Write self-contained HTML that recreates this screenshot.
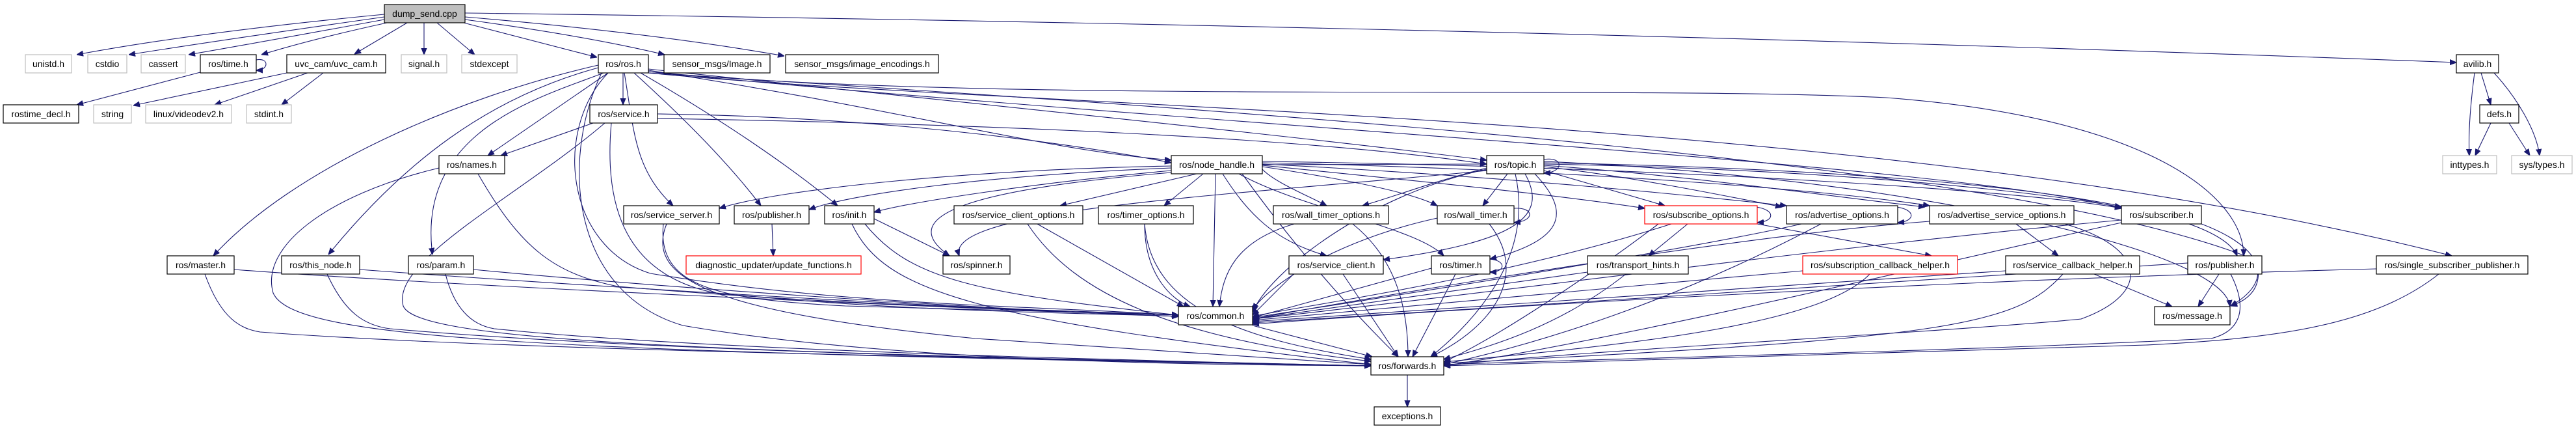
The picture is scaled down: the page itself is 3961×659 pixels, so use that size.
<!DOCTYPE html>
<html><head><meta charset="utf-8"><style>
html,body{margin:0;padding:0;background:#fff}
svg{display:block}
text{font-family:"Liberation Sans",sans-serif;font-size:14px;fill:#000;text-anchor:middle}
.n{fill:#fff;stroke:#000;stroke-width:1.2}
.g{fill:#fff;stroke:#bfbfbf;stroke-width:1.2}
.r{fill:#fff;stroke:#ff0000;stroke-width:1.2}
path{fill:none;stroke:#191970;stroke-width:1.1}
</style></head><body>
<svg width="3961" height="659" viewBox="0 0 3961 659" xmlns="http://www.w3.org/2000/svg">
<defs><marker id="a" viewBox="0 0 10 10" refX="10" refY="5" markerWidth="10" markerHeight="10" markerUnits="userSpaceOnUse" orient="auto"><path d="M0,1 L10,5 L0,9 Z" style="fill:#191970;stroke:#191970"/></marker></defs>
<g marker-end="url(#a)">
<path d="M591,22 Q300,50 118,84"/><path d="M591,26 Q350,60 198,84"/><path d="M591,30 Q400,65 290,84"/><path d="M595,35 Q480,60 402,84"/>
<path d="M626,35 L545,83"/><path d="M652,35 L652,84"/><path d="M672,35 L730,84"/><path d="M713,35 L918,88"/>
<path d="M715,30 Q900,55 1022,84"/><path d="M715,26 Q1000,50 1206,86"/><path d="M715,20 Q2300,40 3777,96"/>
<path d="M394,92 C414,88 414,108 394,108"/><path d="M308,111 L118,161"/>
<path d="M441,112 L205,162"/><path d="M473,112 L330,161"/><path d="M497,112 L433,161"/>
<path d="M958,112 L958,161"/><path d="M935,112 L750,239"/>
<path d="M920,100 C700,150 450,260 328,393"/><path d="M920,104 C750,150 620,250 505,391"/><path d="M928,112 C830,150 640,200 665,391"/>
<path d="M997,108 C1400,170 1600,230 1801,246"/><path d="M997,106 C1600,170 2000,210 2286,246"/>
<path d="M960,112 C975,200 975,260 1035,316"/><path d="M975,112 C1050,180 1120,250 1170,316"/><path d="M985,112 C1120,190 1220,260 1288,316"/>
<path d="M935,112 C850,200 870,380 1000,420 C1300,470 1600,470 1812,484"/>
<path d="M925,112 C860,250 880,450 1050,500 C1400,560 1900,560 2108,562"/>
<path d="M997,110 C1800,190 3000,250 3262,320"/>
<path d="M997,110 C1500,160 2500,130 2900,150 C3300,180 3450,300 3450,393"/>
<path d="M997,112 C1600,170 2900,170 3770,393"/>
<path d="M997,112 C2000,175 3100,250 3470,400 C3480,440 3460,460 3430,470"/>
<path d="M912,189 L770,239"/><path d="M1011,175 C1400,180 1700,230 1801,250"/><path d="M1011,182 C1500,190 2000,210 2286,252"/>
<path d="M940,189 C930,300 950,420 1100,450 C1400,480 1650,480 1812,486"/>
<path d="M930,189 C800,300 600,400 620,470 C640,520 1000,540 2108,562"/>
<path d="M735,267 C800,380 850,420 950,440 C1300,470 1600,475 1812,484"/>
<path d="M675,258 C500,300 400,380 420,450 C450,520 800,540 2108,562"/>
<path d="M360,414 C700,440 1400,470 1812,486"/><path d="M315,421 C340,490 370,505 400,510 C800,540 1600,550 2108,562"/>
<path d="M553,414 C900,440 1500,475 1812,486"/><path d="M503,421 C530,480 560,500 600,505 C1000,540 1700,555 2108,562"/>
<path d="M728,414 C1000,440 1500,475 1812,486"/><path d="M685,421 C700,480 730,500 760,505 C1100,540 1800,555 2108,562"/>
<path d="M1801,255 C1500,260 1200,290 1106,320"/><path d="M1801,258 C1500,270 1300,300 1244,322"/><path d="M1801,262 C1600,280 1400,310 1344,326"/>
<path d="M1840,267 L1630,316"/><path d="M1850,267 L1790,316"/>
<path d="M1941,260 C1960,280 2010,300 2040,316"/><path d="M1941,256 C2100,280 2180,300 2210,316"/>
<path d="M1941,254 C2200,280 2400,300 2529,320"/><path d="M1941,252 C2300,270 2600,300 2747,316"/>
<path d="M1941,250 C2400,260 2800,290 2967,316"/><path d="M1941,248 C2500,255 3100,290 3262,320"/>
<path d="M1801,265 C1500,290 1370,330 1460,393"/><path d="M1880,267 C1920,330 1960,370 2040,393"/>
<path d="M1905,267 C2000,320 2180,350 2220,393"/><path d="M1869,267 L1865,471"/>
<path d="M1910,267 C1970,350 2050,450 2150,548"/><path d="M1941,253 L2286,252"/>
<path d="M2374,245 C2405,240 2405,265 2374,266"/><path d="M2286,258 C2200,280 2150,300 2095,316"/><path d="M2318,267 L2280,316"/>
<path d="M2374,262 L2560,316"/><path d="M2374,256 C2500,270 2650,300 2740,318"/><path d="M2374,254 C2600,270 2800,300 2960,318"/>
<path d="M2374,252 C2800,260 3100,290 3262,318"/><path d="M2374,250 C2900,260 3400,300 3440,393"/>
<path d="M2286,262 C1900,300 1450,320 1475,393"/><path d="M2345,267 C2380,330 2340,370 2127,399"/>
<path d="M2360,267 C2420,330 2400,370 2291,398"/><path d="M2286,260 C2100,300 1950,420 1926,480"/>
<path d="M2330,267 C2360,400 2260,500 2200,548"/><path d="M2374,248 C2900,270 3420,380 3429,471"/>
<path d="M1020,344 C1010,440 1100,460 1300,470 L1812,484"/><path d="M1025,344 C990,430 1100,480 1500,520 L2108,560"/>
<path d="M1187,344 L1189,393"/>
<path d="M1344,336 L1460,393"/><path d="M1330,344 C1400,430 1500,450 1812,484"/><path d="M1310,344 C1360,450 1500,490 2108,560"/>
<path d="M1595,344 L1820,471"/><path d="M1580,344 C1650,450 1800,520 2108,555"/>
<path d="M1760,344 C1760,420 1800,460 1830,471"/><path d="M1760,344 C1770,470 1900,520 2108,552"/>
<path d="M1990,344 C1900,370 1880,420 1875,471"/><path d="M2080,344 C2150,400 2165,480 2165,548"/>
<path d="M2328,320 C2360,318 2360,340 2328,342"/><path d="M2210,335 C2050,370 1950,440 1926,476"/><path d="M2290,344 C2350,420 2300,500 2200,548"/>
<path d="M2700,318 C2730,322 2730,340 2702,342"/><path d="M2595,344 L2535,393"/><path d="M2702,344 L2970,393"/>
<path d="M2570,344 C2300,430 2000,470 1926,486"/><path d="M2550,344 C2450,420 2300,520 2220,556"/>
<path d="M2916,318 C2946,322 2946,340 2918,342"/><path d="M2770,344 C2700,360 2500,400 1926,488"/><path d="M2800,344 C2600,450 2400,520 2220,560"/>
<path d="M3100,344 L3165,393"/><path d="M2967,340 C2700,360 2200,440 1926,490"/>
<path d="M3175,344 C3300,380 3310,450 3200,490 C3000,510 2400,540 2220,562"/>
<path d="M3262,338 C2800,380 2300,450 1926,490"/><path d="M3262,342 C3000,400 2500,520 2220,562"/><path d="M3385,344 C3480,380 3500,430 3430,470"/>
<path d="M1990,420 L1926,484"/><path d="M2065,421 L2150,548"/>
<path d="M2291,398 C2316,400 2316,418 2291,418"/><path d="M2201,412 L1926,488"/><path d="M2238,421 L2172,548"/>
<path d="M2441,418 L1926,490"/><path d="M2500,421 C2400,500 2300,530 2220,552"/>
<path d="M2772,416 L1926,492"/><path d="M2875,421 C2800,500 2500,530 2220,556"/>
<path d="M3084,416 L1926,494"/><path d="M3172,421 C3100,500 3000,520 2220,558"/><path d="M3220,421 L3340,471"/>
<path d="M3364,404 C3000,430 2300,470 1926,496"/><path d="M3430,421 C3460,480 3440,510 3400,520 C3000,540 2500,550 2220,560"/><path d="M3412,421 L3380,471"/>
<path d="M3654,413 C3000,430 2300,470 1926,498"/><path d="M3750,421 C3650,500 3500,520 3300,530 C2900,545 2500,552 2220,562"/>
<path d="M1926,500 L2110,548"/><path d="M2164,576 L2164,625"/>
<path d="M3805,112 C3800,150 3795,200 3797,239"/><path d="M3815,112 L3830,161"/><path d="M3835,112 C3870,150 3900,200 3905,239"/>
<path d="M3830,189 L3806,239"/><path d="M3858,189 L3890,239"/>
</g>
<g>
<rect x="591" y="7" width="124" height="28" style="fill:#bfbfbf;stroke:#000;stroke-width:1.2"/><text x="653" y="26">dump_send.cpp</text>
<rect class="g" x="39" y="84" width="71" height="28"/><text x="74.5" y="103">unistd.h</text>
<rect class="g" x="135" y="84" width="60" height="28"/><text x="165" y="103">cstdio</text>
<rect class="g" x="217" y="84" width="68" height="28"/><text x="251" y="103">cassert</text>
<rect class="n" x="308" y="84" width="86" height="28"/><text x="351" y="103">ros/time.h</text>
<rect class="n" x="441" y="84" width="152" height="28"/><text x="517" y="103">uvc_cam/uvc_cam.h</text>
<rect class="g" x="617" y="84" width="70" height="28"/><text x="652" y="103">signal.h</text>
<rect class="g" x="710" y="84" width="85" height="28"/><text x="752.5" y="103">stdexcept</text>
<rect class="n" x="920" y="84" width="77" height="28"/><text x="958.5" y="103">ros/ros.h</text>
<rect class="n" x="1021" y="84" width="163" height="28"/><text x="1102.5" y="103">sensor_msgs/Image.h</text>
<rect class="n" x="1208" y="84" width="235" height="28"/><text x="1325.5" y="103">sensor_msgs/image_encodings.h</text>
<rect class="n" x="3777" y="84" width="65" height="28"/><text x="3809.5" y="103">avilib.h</text>
<rect class="n" x="5" y="161" width="116" height="28"/><text x="63" y="180">rostime_decl.h</text>
<rect class="g" x="144" y="161" width="58" height="28"/><text x="173" y="180">string</text>
<rect class="g" x="224" y="161" width="132" height="28"/><text x="290" y="180">linux/videodev2.h</text>
<rect class="g" x="379" y="161" width="69" height="28"/><text x="413.5" y="180">stdint.h</text>
<rect class="n" x="907" y="161" width="104" height="28"/><text x="959" y="180">ros/service.h</text>
<rect class="n" x="3813" y="161" width="60" height="28"/><text x="3843" y="180">defs.h</text>
<rect class="n" x="675" y="239" width="101" height="28"/><text x="725.5" y="258">ros/names.h</text>
<rect class="n" x="1801" y="239" width="140" height="28"/><text x="1871" y="258">ros/node_handle.h</text>
<rect class="n" x="2286" y="239" width="88" height="28"/><text x="2330" y="258">ros/topic.h</text>
<rect class="g" x="3756" y="239" width="83" height="28"/><text x="3797.5" y="258">inttypes.h</text>
<rect class="g" x="3862" y="239" width="93" height="28"/><text x="3908.5" y="258">sys/types.h</text>
<rect class="n" x="959" y="316" width="147" height="28"/><text x="1032.5" y="335">ros/service_server.h</text>
<rect class="n" x="1129" y="316" width="115" height="28"/><text x="1186.5" y="335">ros/publisher.h</text>
<rect class="n" x="1268" y="316" width="76" height="28"/><text x="1306" y="335">ros/init.h</text>
<rect class="n" x="1467" y="316" width="198" height="28"/><text x="1566" y="335">ros/service_client_options.h</text>
<rect class="n" x="1689" y="316" width="146" height="28"/><text x="1762" y="335">ros/timer_options.h</text>
<rect class="n" x="1958" y="316" width="177" height="28"/><text x="2046.5" y="335">ros/wall_timer_options.h</text>
<rect class="n" x="2210" y="316" width="118" height="28"/><text x="2269" y="335">ros/wall_timer.h</text>
<rect class="r" x="2529" y="316" width="173" height="28"/><text x="2615.5" y="335">ros/subscribe_options.h</text>
<rect class="n" x="2747" y="316" width="171" height="28"/><text x="2832.5" y="335">ros/advertise_options.h</text>
<rect class="n" x="2967" y="316" width="222" height="28"/><text x="3078" y="335">ros/advertise_service_options.h</text>
<rect class="n" x="3262" y="316" width="123" height="28"/><text x="3323.5" y="335">ros/subscriber.h</text>
<rect class="n" x="257" y="393" width="103" height="28"/><text x="308.5" y="412">ros/master.h</text>
<rect class="n" x="433" y="393" width="120" height="28"/><text x="493" y="412">ros/this_node.h</text>
<rect class="n" x="628" y="393" width="100" height="28"/><text x="678" y="412">ros/param.h</text>
<rect class="r" x="1055" y="393" width="269" height="28"/><text x="1189.5" y="412">diagnostic_updater/update_functions.h</text>
<rect class="n" x="1450" y="393" width="103" height="28"/><text x="1501.5" y="412">ros/spinner.h</text>
<rect class="n" x="1982" y="393" width="145" height="28"/><text x="2054.5" y="412">ros/service_client.h</text>
<rect class="n" x="2201" y="393" width="90" height="28"/><text x="2246" y="412">ros/timer.h</text>
<rect class="n" x="2441" y="393" width="155" height="28"/><text x="2518.5" y="412">ros/transport_hints.h</text>
<rect class="r" x="2772" y="393" width="238" height="28"/><text x="2891" y="412">ros/subscription_callback_helper.h</text>
<rect class="n" x="3084" y="393" width="206" height="28"/><text x="3187" y="412">ros/service_callback_helper.h</text>
<rect class="n" x="3364" y="393" width="114" height="28"/><text x="3421" y="412">ros/publisher.h</text>
<rect class="n" x="3654" y="393" width="233" height="28"/><text x="3770.5" y="412">ros/single_subscriber_publisher.h</text>
<rect class="n" x="1812" y="471" width="114" height="28"/><text x="1869" y="490">ros/common.h</text>
<rect class="n" x="3313" y="471" width="116" height="28"/><text x="3371" y="490">ros/message.h</text>
<rect class="n" x="2108" y="548" width="112" height="28"/><text x="2164" y="567">ros/forwards.h</text>
<rect class="n" x="2113" y="625" width="102" height="28"/><text x="2164" y="644">exceptions.h</text>
</g>
</svg>
</body></html>
